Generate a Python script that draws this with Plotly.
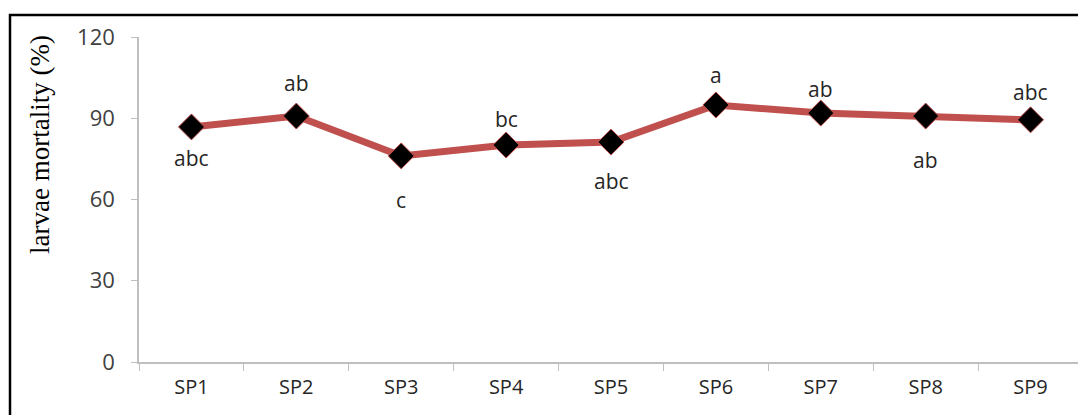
import plotly.graph_objects as go

categories = ["SP1", "SP2", "SP3", "SP4", "SP5", "SP6", "SP7", "SP8", "SP9"]
mortality = [86.8, 90.8, 76.1, 80.1, 81.2, 94.9, 91.9, 90.8, 89.4]
letters = ["abc", "ab", "c", "bc", "abc", "a", "ab", "ab", "abc"]
label_shift = [-31, 33, -44, 26, -39, 30, 24, -44, 28]
y_ticks = [0, 30, 60, 90, 120]

# page has an 8px body margin; figure coordinates are page minus 8
OFF = 8
W, H = 1086 - OFF, 415 - OFF
L, T = 139 - OFF, 37 - OFF
R = W - (1083 - OFF)
B = H - (362 - OFF)
pw, ph = W - L - R, H - T - B

fig = go.Figure()
fig.add_trace(go.Scatter(
    x=categories, y=mortality, mode="lines+markers",
    line=dict(color="#C0504D", width=7),
    marker=dict(symbol="diamond", size=20, color="black",
                line=dict(color="#C0504D", width=1)),
    showlegend=False, hoverinfo="skip"))

for c, v, t, s in zip(categories, mortality, letters, label_shift):
    fig.add_annotation(x=c, y=v, text=t, showarrow=False, yshift=s,
                       font=dict(family="Open Sans", size=21, color="#262626"))

fig.add_annotation(xref="paper", yref="paper",
                   x=(40 - OFF - L) / pw, y=(H - B - (145 - OFF)) / ph,
                   xanchor="center", yanchor="middle",
                   text="larvae mortality (%)", textangle=-90, showarrow=False,
                   font=dict(family="Liberation Serif", size=27, color="black"))

# frame
x0 = (10 - OFF - L) / pw
y0 = (H - B - (15 - OFF)) / ph
fig.add_shape(type="path", xref="paper", yref="paper",
              path=f"M {x0} -0.3 L {x0} {y0} L 1.05 {y0}",
              line=dict(color="black", width=2.5))

fig.update_xaxes(showline=True, linecolor="#BFBFBF", linewidth=1.5,
                 ticks="outside", ticklen=7, tickcolor="#BFBFBF",
                 tickson="boundaries", showgrid=False, range=[-0.5, 8.5],
                 tickfont=dict(family="Open Sans", size=20, color="#262626"),
                 ticklabelstandoff=6)
fig.update_yaxes(range=[0, 120], tickvals=y_ticks, showline=True,
                 linecolor="#BFBFBF", linewidth=1.5, ticks="outside",
                 ticklen=6, tickcolor="#BFBFBF", showgrid=False, zeroline=False,
                 tickfont=dict(family="Open Sans", size=22, color="#404040"),
                 ticklabelstandoff=12)
fig.update_layout(width=W, height=H, margin=dict(l=L, r=R, t=T, b=B),
                  plot_bgcolor="white", paper_bgcolor="white")
fig.write_html("out.html")
